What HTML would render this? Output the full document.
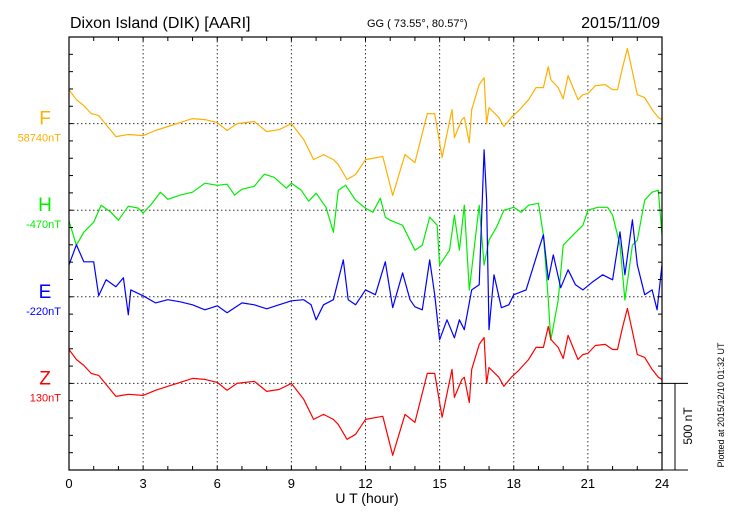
<!DOCTYPE html>
<html><head><meta charset="utf-8"><style>
body{margin:0;background:#fff;}
svg{display:block;font-family:"Liberation Sans",sans-serif;}
</style></head><body>
<svg id="chart" width="730" height="520" viewBox="0 0 730 520" xmlns="http://www.w3.org/2000/svg">
<text x="70" y="28" font-size="16">Dixon Island (DIK)  [AARI]</text>
<text x="367" y="27" font-size="11">GG ( 73.55°,  80.57°)</text>
<text x="660" y="28" font-size="16" text-anchor="end">2015/11/09</text>
<text x="367" y="503" font-size="14" text-anchor="middle">U T (hour)</text>
<text transform="translate(692,426) rotate(-90)" font-size="12" text-anchor="middle">500 nT</text>
<text transform="translate(724,405) rotate(-90)" font-size="9" text-anchor="middle">Plotted at 2015/12/10 01:32 UT</text>
<g id="grid"></g><g id="series"></g><g id="axes"></g>
</svg>
<script>
const xTicks = [0,3,6,9,12,15,18,21,24];
const components = ["F","H","E","Z"];
const baseLabels = ["58740nT","-470nT","-220nT","130nT"];
const fT = [0,0.3,0.6,0.9,1.2,1.5,1.9,2.4,3.0,3.5,4.0,4.5,5.0,5.5,6.0,6.4,6.8,7.5,8.0,8.5,9.0,9.5,9.9,10.3,10.7,10.9,11.25,11.6,12.0,12.7,13.1,13.6,14.0,14.5,14.8,15.1,15.5,15.6,15.9,16.0,16.2,16.3,16.6,16.8,16.9,17.0,17.4,17.6,17.9,18.2,18.6,18.9,19.2,19.4,19.5,19.8,20.0,20.2,20.6,20.8,21.0,21.3,21.7,22.0,22.2,22.4,22.6,22.8,23.0,23.3,23.6,23.85,24];
const fV = [196,138,104,58,46,-6,-75,-63,-69,-40,-17,6,29,23,6,-40,0,12,-46,-35,0,-92,-208,-179,-208,-237,-323,-294,-208,-190,-415,-179,-225,58,58,-196,81,-81,23,35,-110,81,225,265,0,92,35,-17,35,75,138,208,208,329,254,208,144,277,138,167,173,219,225,196,196,323,433,300,167,150,81,35,23];
const hT = [0,0.3,0.6,1.0,1.3,1.7,2.0,2.4,2.8,3.0,3.3,3.7,4.0,4.5,5.0,5.5,6.0,6.4,6.7,7.0,7.5,7.9,8.3,8.8,9.0,9.4,9.7,10.0,10.4,10.7,10.9,11.2,11.6,12.0,12.3,12.6,12.8,13.0,13.5,14.0,14.3,14.6,14.9,15.0,15.4,15.6,15.8,16.0,16.2,16.6,16.8,17.0,17.3,17.6,18.0,18.3,18.6,19.0,19.2,19.4,19.5,19.8,20.0,20.4,20.8,21.0,21.4,21.8,22.0,22.3,22.5,22.8,23.0,23.3,23.6,23.85,24];
const hV = [-63,-202,-127,-69,29,-12,-58,23,12,-17,29,104,63,87,104,156,144,150,87,121,138,208,190,127,156,115,52,98,17,-127,115,144,58,12,-12,69,-40,-58,-87,-231,-202,-40,-87,-317,-231,-29,-231,29,-462,29,-317,-173,-98,0,17,-12,29,40,-144,-519,-750,-519,-202,-144,-87,0,17,17,-29,-202,-519,-202,-173,58,104,115,-144];
const eT = [0,0.3,0.6,1.0,1.2,1.5,1.9,2.2,2.4,2.5,3.0,3.5,4.0,4.5,5.0,5.5,6.0,6.4,7.0,7.5,8.0,8.5,9.0,9.5,9.8,10.0,10.3,10.7,11.1,11.3,11.6,12.0,12.4,12.8,13.1,13.5,13.8,14.0,14.3,14.6,14.8,15.0,15.3,15.6,15.8,16.0,16.3,16.6,16.8,16.9,17.0,17.2,17.5,17.8,18.0,18.5,19.0,19.2,19.4,19.6,19.9,20.2,20.5,20.8,21.2,21.6,22.0,22.3,22.5,22.8,23.0,23.3,23.6,23.8,24];
const eV = [185,300,202,202,6,98,58,110,-104,40,6,-35,-17,-29,-46,-75,-52,-92,-35,-46,-69,-46,-23,-17,-46,-133,-46,-17,213,-17,-46,40,12,202,-63,138,-17,-58,-75,213,12,-248,-133,-237,-133,-190,40,69,848,560,-190,127,-63,-46,12,40,271,358,98,242,52,156,69,40,87,127,98,375,127,444,185,12,40,-75,185];
const zT = fT.slice();
const zV = [196,138,104,58,46,-6,-75,-63,-69,-40,-17,6,29,23,6,-40,0,12,-46,-35,0,-92,-208,-179,-208,-237,-323,-294,-208,-190,-415,-179,-225,58,58,-196,81,-81,23,35,-110,81,225,265,0,92,35,-17,35,75,138,208,208,329,254,208,144,277,138,167,173,219,225,196,196,323,433,300,167,150,81,35,23];

const X0=69,X1=662,Y0=37,Y1=470,PXNT=17.32/100;
const xs=h=>X0+(X1-X0)*h/24;
const baseY=i=>Y1-(20-5*i)*17.32-0.0;
const ys=(v,i)=>baseY(i)-v*PXNT;
const NS="http://www.w3.org/2000/svg";
function mk(tag,parent,attrs){const e=document.createElementNS(NS,tag);for(const k in attrs)e.setAttribute(k,attrs[k]);parent.appendChild(e);return e;}
const grid=document.getElementById('grid'),ser=document.getElementById('series'),ax=document.getElementById('axes');
// vertical grid
xTicks.slice(1,-1).forEach(h=>{
  const l=mk('line',grid,{x1:xs(h),x2:xs(h),y1:Y0,y2:Y1,stroke:'#333','stroke-width':1,'stroke-dasharray':'1.5,2.5'});
  
  
});
const colors=['#ffb000','#00ee00','#0000ff','#ff0000'];
const T=[fT,hT,eT,zT],V=[fV,hV,eV,zV];
components.forEach((c,i)=>{
  const by=baseY(i);
  const g=mk('line',grid,{x1:X0,x2:X1,y1:by,y2:by,stroke:'#333','stroke-width':1,'stroke-dasharray':'1.5,2.5'});
  
  
  const t=mk('text',ax,{x:45,y:by+1,'font-size':19,fill:colors[i],'text-anchor':'middle'});t.textContent=c;
  
  
  const b=mk('text',ax,{x:61,y:by+18,'font-size':11,fill:colors[i],'text-anchor':'end'});b.textContent=baseLabels[i];
  
  
});
[1,3,2,0].forEach(i=>{
  const d=T[i].map((h,k)=>(k?'L':'M')+xs(h).toFixed(1)+','+ys(V[i][k],i).toFixed(1)).join('');
  const p=mk('path',ser,{d:d,fill:'none',stroke:colors[i],'stroke-width':1.2,'stroke-linejoin':'round'});
  
  
});
// frame
const fr=mk('rect',ax,{x:X0,y:Y0,width:X1-X0,height:Y1-Y0,fill:'none',stroke:'#000','stroke-width':1.2});


for(let k=0;k<=25;k++){const y=Y1-k*17.32;
  mk('line',ax,{x1:X0,x2:X0+4,y1:y,y2:y,stroke:'#000'});
  mk('line',ax,{x1:X1-4,x2:X1,y1:y,y2:y,stroke:'#000'});}
for(let h=0;h<=24;h++){
  mk('line',ax,{x1:xs(h),x2:xs(h),y1:Y0,y2:Y0+4,stroke:'#000'});
  mk('line',ax,{x1:xs(h),x2:xs(h),y1:Y1-4,y2:Y1,stroke:'#000'});}
xTicks.forEach(h=>{const t=mk('text',ax,{x:xs(h),y:488,'font-size':13,'text-anchor':'middle'});t.textContent=h;
  
  });
// scale bar
const sb=mk('g',ax,{});


mk('line',sb,{x1:X1,x2:688,y1:baseY(3),y2:baseY(3),stroke:'#000'});
mk('line',sb,{x1:675,x2:675,y1:baseY(3),y2:Y1,stroke:'#000'});
mk('line',sb,{x1:X1,x2:688,y1:Y1,y2:Y1,stroke:'#000'});
</script>
</body></html>
